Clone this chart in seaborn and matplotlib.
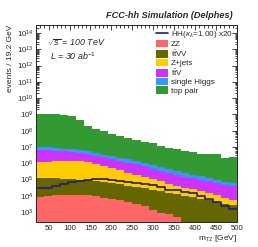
import numpy as np
import pandas as pd
import seaborn as sns
import matplotlib
matplotlib.use("Agg")
import matplotlib.pyplot as plt
from matplotlib.lines import Line2D
from matplotlib.patches import Patch
from matplotlib.ticker import LogLocator, MultipleLocator, NullFormatter

# binning: 25 bins of 19.2 GeV between 20 and 500
edges = list(np.linspace(20, 500, 26))
centers = 0.5 * (np.array(edges[:-1]) + np.array(edges[1:]))

# events per bin
top_pair = [1.06e9, 1.06e9, 1.04e9, 8.83e8, 7.69e8, 4.51e8, 1.99e8, 1.22e8, 8.57e7, 5.75e7,
            4.15e7, 3.30e7, 2.56e7, 2.04e7, 1.62e7, 1.14e7, 7.87e6, 6.91e6, 5.0e6, 4.81e6,
            3.47e6, 3.43e6, 3.38e6, 1.97e6, 2.28e6]
single_higgs = [3.69e6, 3.30e6, 2.89e6, 2.69e6, 2.45e6, 2.14e6, 1.70e6, 1.39e6, 1.10e6, 8.9e5,
                7.45e5, 6.0e5, 4.67e5, 3.69e5, 2.91e5, 2.44e5, 2.07e5, 1.40e5, 1.00e5, 8.0e4,
                6.25e4, 4.41e4, 3.44e4, 2.73e4, 2.31e4]
ttv = [5.14e6, 4.77e6, 4.27e6, 3.84e6, 3.38e6, 2.85e6, 2.40e6, 1.99e6, 1.66e6, 1.36e6,
       1.07e6, 8.33e5, 6.51e5, 4.83e5, 3.56e5, 2.52e5, 1.84e5, 1.49e5, 1.19e5, 9.5e4,
       7.64e4, 6.18e4, 4.84e4, 3.92e4, 3.15e4]
zjets = [1.05e6, 1.14e6, 1.23e6, 1.30e6, 1.31e6, 1.22e6, 1.06e6, 8.12e5, 5.62e5, 4.41e5,
         3.22e5, 2.21e5, 1.64e5, 1.20e5, 8.98e4, 6.08e4, 4.14e4, 2.97e4, 2.16e4, 1.68e4,
         1.25e4, 8.85e3, 6.3e3, 4.28e3, 2.93e3]
ttvv = [1.17e5, 1.10e5, 1.04e5, 9.84e4, 9.32e4, 8.40e4, 7.61e4, 6.99e4, 6.16e4, 5.40e4,
        4.49e4, 3.75e4, 3.22e4, 2.58e4, 2.10e4, 1.77e4, 1.41e4, 1.15e4, 1.00e4, 8.32e3,
        6.61e3, 5.25e3, 4.17e3, 3.31e3, 2.82e3]
zz = [8900, 10000, 10500, 11200, 11500, 11500, 11000, 9550, 7590, 6310,
      5250, 4170, 3310, 2400, 1410, 930, 710, 500, 0, 0,
      0, 0, 0, 0, 0]
hh = [1475, 1580, 2085, 2810, 3540, 4160, 4665, 5000, 5100, 4665,
      4160, 3705, 3155, 2625, 2135, 1655, 1200, 1070, 790, 705,
      500, 315, 199, 125, 79]
hh_scale = 20

processes = ["ZZ", "ttVV", "Z+jets", "ttV", "single Higgs", "top pair"]
labels = ["ZZ", r"t$\bar{\rm t}$VV", "Z+jets", r"t$\bar{\rm t}$V", "single Higgs", "top pair"]
colors = ["#ff6666", "#666600", "#ffcc00", "#cc33ff", "#3399ff", "#339933"]
values = [zz, ttvv, zjets, ttv, single_higgs, top_pair]

df = pd.concat([pd.DataFrame({"mt2": centers, "events": v, "process": p})
                for p, v in zip(processes, values)], ignore_index=True)

sns.set_style("ticks")
plt.rcParams["font.family"] = ["Liberation Sans", "DejaVu Sans"]
plt.rcParams["mathtext.fontset"] = "custom"
plt.rcParams["mathtext.rm"] = "Liberation Sans"
plt.rcParams["mathtext.it"] = "Liberation Sans:italic"
plt.rcParams["mathtext.bf"] = "Liberation Sans:bold"

fig = plt.figure(figsize=(2.58, 2.47), dpi=100)
ax = fig.add_axes([36 / 258, 1 - 222 / 247, 201 / 258, 197 / 247])

# seaborn stacks the first hue level on top
sns.histplot(data=df, x="mt2", weights="events", hue="process",
             hue_order=processes[::-1], palette=dict(zip(processes, colors)),
             bins=edges, multiple="stack", element="step", alpha=1,
             linewidth=0, legend=False, ax=ax)
sns.histplot(x=centers, weights=np.array(hh) * hh_scale, bins=edges, element="step",
             fill=False, color="#1e1e72", linewidth=1.2, ax=ax)

ax.set_yscale("log")
ax.set_xlim(20, 500)
ax.set_ylim(243, 3.1e14)

ax.xaxis.set_major_locator(MultipleLocator(50))
ax.xaxis.set_minor_locator(MultipleLocator(10))
ax.yaxis.set_major_locator(LogLocator(base=10, numticks=30))
ax.yaxis.set_minor_locator(LogLocator(base=10, subs=np.arange(2, 10), numticks=30))
ax.yaxis.set_minor_formatter(NullFormatter())
ax.tick_params(which="both", direction="in", top=True, right=True, labelsize=5.6,
               width=0.6, pad=2)
ax.tick_params(which="major", length=3.5)
ax.tick_params(which="minor", length=1.8)
for s in ax.spines.values():
    s.set_linewidth(0.7)

ax.set_xlabel(r"m$_{\rm T2}$ [GeV]", loc="right", fontsize=6.0, labelpad=1)
ax.set_ylabel("events / 19.2 GeV", loc="top", fontsize=6.0, labelpad=2)

fig.text(233 / 258, 1 - 16 / 247, "FCC-hh Simulation (Delphes)", ha="right", va="center",
         fontsize=6.6, fontweight="bold", style="italic")
ax.text(46, 2.4e13, r"$\sqrt{s}$ = 100 TeV", fontsize=6.4, style="italic", va="center")
ax.text(53, 3.9e12, r"L = 30 ab$^{-1}$", fontsize=6.4, style="italic", va="center")

handles = [Line2D([], [], color="#1e1e72", lw=1.2)]
handles += [Patch(facecolor=c, edgecolor="none") for c in colors]
ax.legend(handles, [r"HH($\kappa_\lambda$=1.00) x20"] + labels,
          loc="upper left", bbox_to_anchor=(156 / 258, 1 - 29 / 247),
          bbox_transform=fig.transFigure, frameon=False, fontsize=5.9,
          borderpad=0, borderaxespad=0, labelspacing=0.0, handlelength=1.45,
          handleheight=1.0, handletextpad=0.33)

fig.savefig("out.png", dpi=100)
